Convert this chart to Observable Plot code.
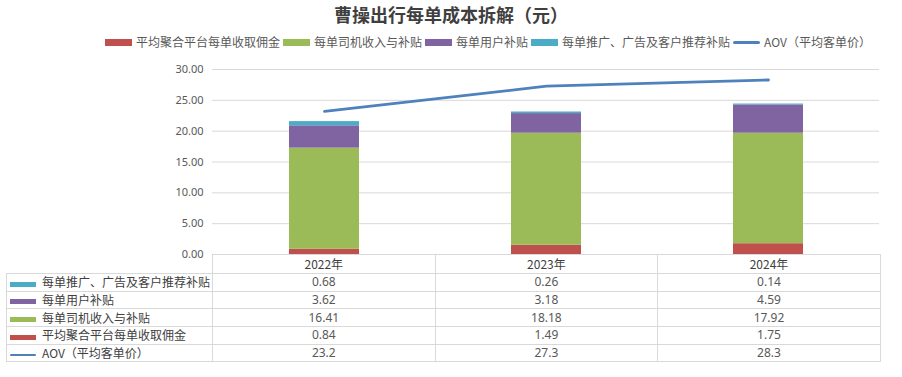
<!DOCTYPE html>
<html><head><meta charset="utf-8">
<script src="https://cdn.jsdelivr.net/npm/d3@7"></script>
<script src="https://cdn.jsdelivr.net/npm/@observablehq/plot@0.6"></script>
<style>
body{margin:0;background:#fff;font-family:"Noto Sans CJK SC","Noto Sans",sans-serif;}
#wrap{position:relative;width:902px;height:377px;overflow:hidden;background:#fff;}
#title{position:absolute;left:0;width:902px;top:1px;text-align:center;font-size:18px;font-weight:bold;color:#3f3f3f;line-height:26px;}
#legend{position:absolute;top:34px;left:105px;height:16px;display:flex;align-items:center;font-size:12px;color:#595959;white-space:nowrap;}
.li{display:flex;align-items:center;margin-right:3px;line-height:16px;}
.sw{display:inline-block;width:27px;height:7px;margin-right:4px;}
.ln{display:inline-block;width:27px;height:3px;border-radius:1.5px;margin-right:4px;}
#chart{position:absolute;left:0;top:60px;}
#tbl{position:absolute;left:6px;top:254px;width:874px;border-collapse:collapse;table-layout:fixed;font-size:12px;color:#404040;}
#tbl td{border:1px solid #d9d9d9;padding:0;white-space:nowrap;overflow:hidden;line-height:14px;box-sizing:border-box;}
#tbl td.num{text-align:center;color:#595959;font-family:"Noto Sans","Noto Sans CJK SC",sans-serif;font-size:12px;}
#tbl td.lab{text-align:left;}
#tbl .tsw{display:inline-block;width:26px;height:5px;margin-left:3px;margin-right:6px;vertical-align:middle;}
#tbl .tln{display:inline-block;width:26px;height:2.5px;border-radius:1px;margin-left:3px;margin-right:6px;vertical-align:middle;}
</style>
</head><body>
<div id="wrap">
  <div id="title"></div>
  <div id="legend"></div>
  <div id="chart"></div>
  <table id="tbl"></table>
</div>
<script>
const title = "曹操出行每单成本拆解（元）";
const years = ["2022年", "2023年", "2024年"];
// stacked series, bottom to top
const seriesNames = ["平均聚合平台每单收取佣金", "每单司机收入与补贴", "每单用户补贴", "每单推广、广告及客户推荐补贴"];
const commission = [0.84, 1.49, 1.75];
const driverIncome = [16.41, 18.18, 17.92];
const userSubsidy = [3.62, 3.18, 4.59];
const promoSubsidy = [0.68, 0.26, 0.14];
const lineName = "AOV（平均客单价）";
const aov = [23.2, 27.3, 28.3];
const aovLabels = ["23.2", "27.3", "28.3"];
const seriesColors = ["#C0504D", "#9BBB59", "#8064A2", "#4BACC6"];
const lineColor = "#4F81BD";
const yTicks = [0, 5, 10, 15, 20, 25, 30];

const seriesValues = [commission, driverIncome, userSubsidy, promoSubsidy];
const rows = [];
seriesNames.forEach((s, i) => years.forEach((y, j) => rows.push({series: s, year: y, value: seriesValues[i][j]})));
const aovRows = years.map((y, j) => ({year: y, value: aov[j]}));

document.getElementById("title").textContent = title;

// legend
const legend = document.getElementById("legend");
seriesNames.forEach((s, i) => {
  const d = document.createElement("div"); d.className = "li";
  d.innerHTML = `<span class="sw" style="background:${seriesColors[i]}"></span><span>${s}</span>`;
  legend.appendChild(d);
});
{
  const d = document.createElement("div"); d.className = "li";
  d.innerHTML = `<span class="ln" style="background:${lineColor}"></span><span>${lineName}</span>`;
  legend.appendChild(d);
}

const chart = Plot.plot({
  width: 902,
  height: 200,
  marginTop: 9,
  marginBottom: 6,
  marginLeft: 212,
  marginRight: 23,
  style: {fontFamily: "'Noto Sans', sans-serif", fontSize: "11px", color: "#595959", background: "transparent"},
  x: {type: "band", domain: years, paddingInner: 0.685, paddingOuter: 0.3425, axis: null},
  y: {domain: [0, 30], ticks: yTicks, tickFormat: d3.format(".2f"), tickSize: 0, tickPadding: 9, label: null},
  color: {domain: seriesNames, range: seriesColors},
  marks: [
    Plot.gridY(yTicks, {stroke: "#d9d9d9", strokeOpacity: 1}),
    Plot.barY(rows, {x: "year", y: "value", fill: "series"}),
    Plot.line(aovRows, {x: "year", y: "value", stroke: lineColor, strokeWidth: 2.8, strokeLinejoin: "round"})
  ]
});
document.getElementById("chart").appendChild(chart);

// data table
const tbl = document.getElementById("tbl");
const colg = document.createElement("colgroup");
colg.innerHTML = `<col style="width:206px">` + years.map(() => `<col style="width:222.6px">`).join("");
tbl.appendChild(colg);
const head = document.createElement("tr");
head.style.height = "19px";
head.innerHTML = `<td style="border-top:hidden;border-left:hidden;height:19px"></td>` + years.map(y => `<td class="num" style="height:19px;font-family:'Noto Sans CJK SC',sans-serif;color:#404040">${y}</td>`).join("");
tbl.appendChild(head);
const tableOrder = [3, 2, 1, 0];
const rowH = "17.7px";
tableOrder.forEach(i => {
  const tr = document.createElement("tr");
  tr.style.height = rowH;
  tr.innerHTML = `<td class="lab" style="height:${rowH}"><span class="tsw" style="background:${seriesColors[i]}"></span>${seriesNames[i]}</td>` +
    seriesValues[i].map(v => `<td class="num" style="height:${rowH}">${v.toFixed(2)}</td>`).join("");
  tbl.appendChild(tr);
});
{
  const tr = document.createElement("tr");
  tr.style.height = rowH;
  tr.innerHTML = `<td class="lab" style="height:${rowH}"><span class="tln" style="background:${lineColor}"></span><span>${lineName}</span></td>` +
    aovLabels.map(v => `<td class="num" style="height:${rowH}">${v}</td>`).join("");
  tbl.appendChild(tr);
}
</script>
</body></html>
